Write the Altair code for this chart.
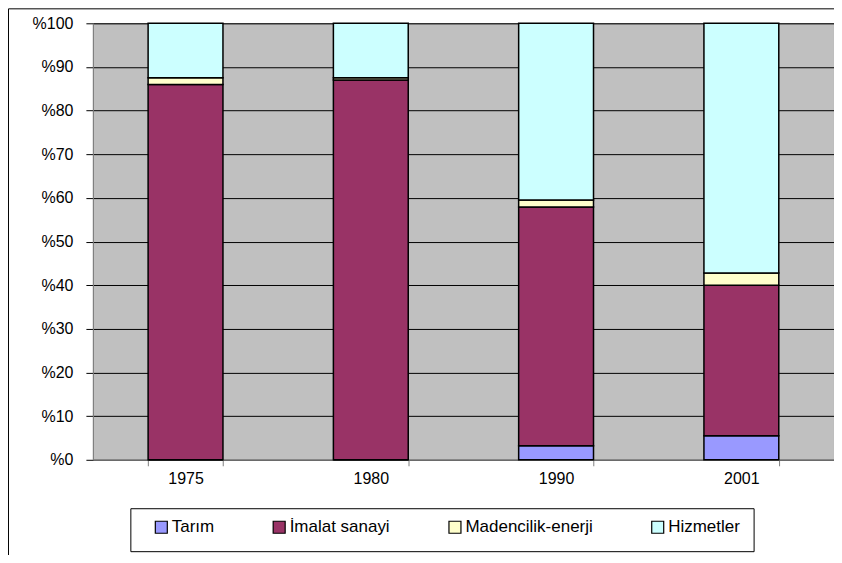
import altair as alt
import pandas as pd

years = ["1975", "1980", "1990", "2001"]
sectors = ["Tarım", "İmalat sanayi", "Madencilik-enerji", "Hizmetler"]
colors = ["#9999FF", "#993366", "#FFFFCC", "#CCFFFF"]
tarim = [0.0, 0.0, 3.2, 5.5]
imalat = [86.0, 87.0, 54.7, 34.5]
madencilik = [1.5, 0.5, 1.6, 2.8]
hizmetler = [12.5, 12.5, 40.5, 57.2]
y_ticks = [0, 10, 20, 30, 40, 50, 60, 70, 80, 90, 100]

rows = []
for i, y in enumerate(years):
    for k, (s, vals) in enumerate(zip(sectors, [tarim, imalat, madencilik, hizmetler])):
        rows.append({"Yıl": y, "Sektör": s, "Pay": vals[i], "sira": k})
df = pd.DataFrame(rows)

W, H = 742, 437
FONT = "Liberation Sans"

bars = alt.Chart(df).mark_bar(stroke="black", strokeWidth=1.5).encode(
    x=alt.X("Yıl:N", sort=years, title=None,
            scale=alt.Scale(paddingInner=0.596, paddingOuter=0.298),
            axis=alt.Axis(labelAngle=0, tickBand="extent", tickSize=6, tickColor="#808080",
                          domainColor="#808080", labelPadding=5, labelFontSize=16,
                          labelColor="black", labelFont=FONT, grid=False)),
    y=alt.Y("Pay:Q", stack="zero", title=None,
            scale=alt.Scale(domain=[0, 100], nice=False),
            axis=alt.Axis(values=y_ticks, labelExpr="'%' + datum.value", tickSize=7,
                          tickColor="black", domainColor="#808080", labelPadding=13,
                          labelFontSize=16, labelColor="black", labelFont=FONT,
                          grid=True, gridColor="black", gridWidth=1, gridOpacity=1)),
    color=alt.Color("Sektör:N", sort=sectors,
                    scale=alt.Scale(domain=sectors, range=colors),
                    legend=alt.Legend(title=None, orient="none", direction="horizontal",
                                      legendX=60, legendY=496, symbolType="square",
                                      symbolSize=144, symbolStrokeColor="black",
                                      symbolStrokeWidth=1.2, symbolOpacity=1,
                                      labelFontSize=17, labelFont=FONT, labelColor="black",
                                      labelOffset=2, columnPadding=56, padding=0)),
    order=alt.Order("sira:Q"),
)

legend_box = alt.Chart(pd.DataFrame({"a": [0]})).mark_rect(
    fill=None, stroke="black", strokeWidth=1, clip=False
).encode(x=alt.value(38), x2=alt.value(662), y=alt.value(486), y2=alt.value(529))

outer = alt.Chart(pd.DataFrame({"a": [0]})).mark_rect(
    fill=None, stroke="black", strokeWidth=1, clip=False
).encode(x=alt.value(-84.5), x2=alt.value(760), y=alt.value(-14.5), y2=alt.value(560))

chart = alt.layer(bars, legend_box, outer).properties(
    width=W, height=H,
    autosize=alt.AutoSizeParams(type="none"),
    padding={"left": 85, "top": 15, "right": 0, "bottom": 95},
    background="white",
).configure_view(fill="#C0C0C0", stroke="#808080", strokeWidth=1)

chart.save("out.html", embed_options={"renderer": "svg", "actions": False})
